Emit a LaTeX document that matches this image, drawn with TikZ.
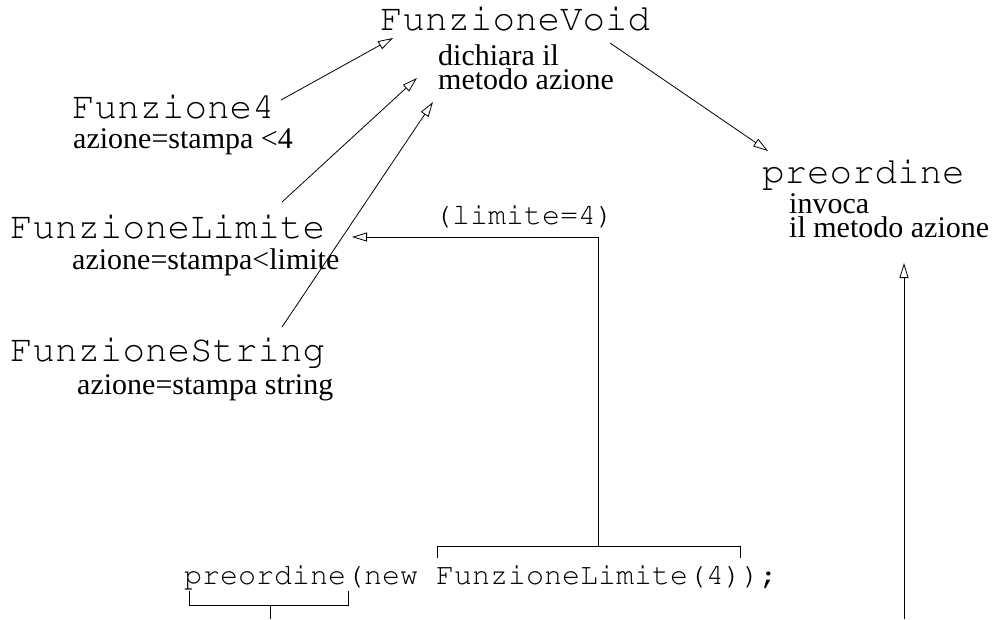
\documentclass[tikz,border=0pt]{standalone}
\usepackage[T1]{fontenc}
\usepackage{fontspec}
\setmainfont{Liberation Serif}
\newcommand{\courfont}{\fontencoding{T1}\fontfamily{pcr}\selectfont}
\usetikzlibrary{positioning,arrows.meta,calc}

\begin{document}
\begin{tikzpicture}[x=1pt,y=-1pt,
      cls/.style={font=\courfont\fontsize{37.5}{40}\selectfont,anchor=base west,inner sep=0pt},
      code/.style={font=\courfont\fontsize{30}{32}\selectfont,anchor=base west,inner sep=0pt},
      note/.style={font=\fontsize{30}{24}\selectfont,anchor=base west,inner sep=0pt,align=left},
      inh/.style={-{Triangle[open,length=15pt,width=9pt]},line width=0.8pt},
      wire/.style={line width=0.8pt}]
    \useasboundingbox (0,0) rectangle (996,619);
    % class names and what they do (two-line notes sit on their last line)
    \node[cls]  (fvoid)     at (380,30)  {FunzioneVoid};
    \node[note] (fvoidnote) at (438,89)  {dichiara il\\metodo azione};
    \node[cls]  (f4)        at (72,118)  {Funzione4};
    \node[note] (f4note)    at (73,148)  {azione=stampa <4};
    \node[cls]  (flim)      at (10,238)  {FunzioneLimite};
    \node[note] (flimnote)  at (72,269)  {azione=stampa<limite};
    \node[cls]  (fstr)      at (10,361)  {FunzioneString};
    \node[note] (fstrnote)  at (77,394)  {azione=stampa string};
    \node[cls]  (pre)       at (762,183) {preordine};
    \node[note] (prenote)   at (789,237) {invoca\\il metodo azione};
    % the call
    \node[code] (lim)  at (434,224) {(limite=4)};
    \node[code] (call) at (184,584) {preordine(new FunzioneLimite(4));};
    % arrow ends
    \coordinate (f4e) at (281,100);  \coordinate (v1) at (393,38);
    \coordinate (fle) at (282,202);  \coordinate (v2) at (417,78);
    \coordinate (fse) at (282,327);  \coordinate (v3) at (433,102);
    \coordinate (ve)  at (610,43);   \coordinate (pw) at (768,151);
    \foreach \a/\b in {f4e/v1, fle/v2, fse/v3, ve/pw}
      \draw[inh] (\a) -- (\b);
    % bracket over FunzioneLimite(4)
    \draw[wire] (437,558) -- (437,546) -- (740,546) -- (740,558);
    \coordinate (top) at (598,546);
    \coordinate (ltip) at (352,237);
    \draw[inh] (top) |- (ltip);
    % bracket under preordine
    \draw[wire] (189,591) -- (189,605) -- (348,605) -- (348,591);
    \coordinate (pb) at (270,605);
    \coordinate (pbot) at (270,619);
    \draw[wire] (pb) -- (pbot);
    % call reaches preordine
    \coordinate (rbot) at (904,619);
    \coordinate (rtip) at (904,263);
    \draw[inh] (rbot) -- (rtip);
  \end{tikzpicture}
\end{document}
